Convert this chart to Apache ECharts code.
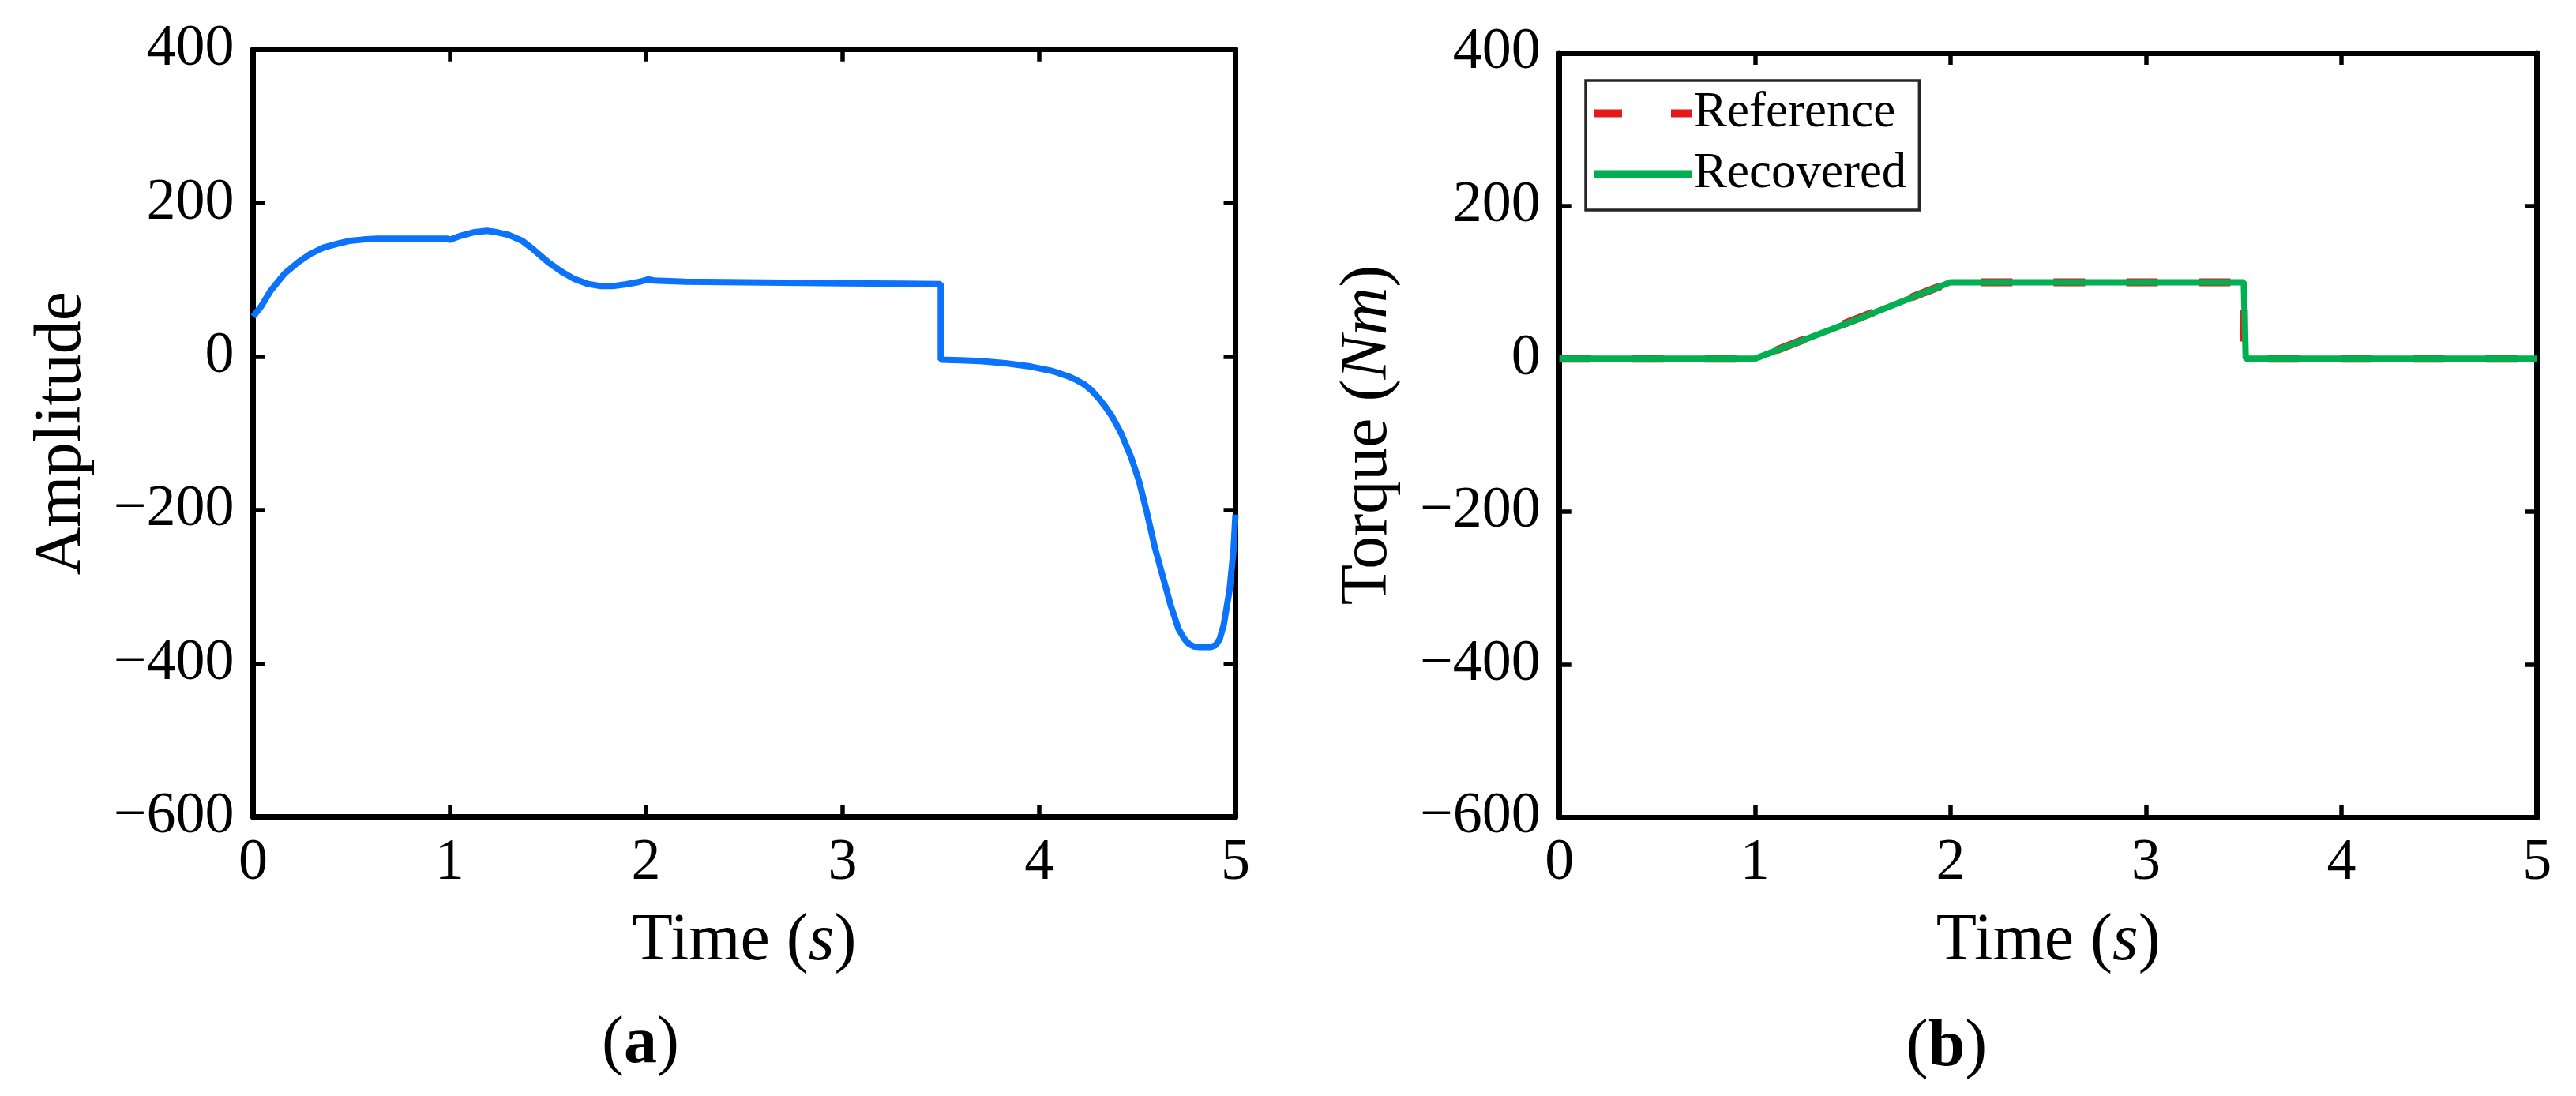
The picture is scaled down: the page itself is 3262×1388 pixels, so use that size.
<!DOCTYPE html>
<html>
<head>
<meta charset="utf-8">
<script src="https://cdn.jsdelivr.net/npm/echarts@6/dist/echarts.min.js"></script>
<style>
html,body{margin:0;padding:0;background:#fff;}
#chart{width:3262px;height:1388px;}
</style>
</head>
<body>
<div id="chart"></div>
<script>
// ---- data ----
const xTicks = [0, 1, 2, 3, 4, 5];
const yTicks = [-600, -400, -200, 0, 200, 400];

// (a) amplitude
const ampTime = [0, 0.04, 0.09, 0.16, 0.23, 0.29, 0.36, 0.43, 0.49, 0.56, 0.63, 0.8, 0.99, 1.0, 1.06, 1.12, 1.19, 1.24, 1.3, 1.37,
  1.43, 1.5, 1.57, 1.63, 1.7, 1.77, 1.83, 1.9, 1.97, 2.01, 2.04, 2.2, 2.6, 3.0, 3.3, 3.5, 3.5, 3.6, 3.7, 3.83,
  3.96, 4.07, 4.15, 4.19, 4.23, 4.265, 4.3, 4.335, 4.37, 4.42, 4.47, 4.51, 4.55, 4.59, 4.63, 4.67, 4.71, 4.74, 4.765, 4.79,
  4.82, 4.875, 4.9, 4.92, 4.94, 4.97, 4.99, 5.0];
const ampValue = [52, 65, 86, 108, 123, 133.5, 142, 147, 150.7, 152.4, 153.5, 153.5, 153.5, 152, 157.6, 161.7, 163.8, 162, 158.6, 150.7,
  138.7, 123.3, 110.6, 101.7, 94.8, 91.7, 91.7, 94.1, 97.5, 100.6, 99, 97.5, 96.5, 95.5, 95, 94.5, -4, -5, -6, -8.7,
  -13.2, -19, -25.9, -30.5, -36.2, -43.5, -53.3, -64.5, -77.3, -101, -132, -163, -204, -249, -286.5, -324, -355, -368, -375, -378,
  -378.5, -378.5, -376, -368, -350, -304, -252, -206];

// (b) torque
const refTime = [0, 1, 2, 3.5, 3.5, 5];
const refTorque = [0, 0, 100, 100, 0, 0];
const recTime = [0, 1, 1.5, 2, 3.5, 3.51, 5];
const recTorque = [0, 0, 49, 100, 100, 0, 0];

const seriesNames = ['Reference', 'Recovered'];

// ---- build ----
const zip = (a, b) => a.map((v, i) => [v, b[i]]);
const FONT = 'Liberation Serif';
const fmtY = v => String(v).replace('-', '\u2212');

const grids = [
  {left: 320.5, top: 62.7, width: 1244, height: 972},
  {left: 1974.7, top: 67, width: 1238, height: 968}
];

const axisLineStyle = {show: true, onZero: false, lineStyle: {color: '#000', width: 7}};
const axisTickStyle = {show: true, inside: true, length: 15, lineStyle: {color: '#000', width: 5.5}};

function xAxes(gi) {
  const base = {
    type: 'value', gridIndex: gi, min: xTicks[0], max: xTicks[xTicks.length - 1], interval: 1,
    splitLine: {show: false}, axisLine: axisLineStyle, axisTick: axisTickStyle
  };
  return [
    Object.assign({}, base, {
      position: 'bottom',
      axisLabel: {show: true, color: '#000', fontFamily: FONT, fontSize: 74, margin: 22},
      name: 'Time ({i|s})', nameLocation: 'middle', nameGap: 116,
      nameTextStyle: {color: '#000', fontFamily: FONT, fontSize: 84,
        rich: {i: {fontFamily: FONT, fontStyle: 'italic', fontSize: 84, color: '#000'}}}
    }),
    Object.assign({}, base, {position: 'top', axisLabel: {show: false}})
  ];
}
function yAxes(gi, name) {
  const base = {
    type: 'value', gridIndex: gi, min: yTicks[0], max: yTicks[yTicks.length - 1], interval: 200,
    splitLine: {show: false}, axisLine: axisLineStyle, axisTick: axisTickStyle
  };
  return [
    Object.assign({}, base, {
      position: 'left',
      axisLabel: {show: true, color: '#000', fontFamily: FONT, fontSize: 74, margin: 24, formatter: fmtY},
      name: name, nameLocation: 'middle', nameGap: 200,
      nameTextStyle: {color: '#000', fontFamily: FONT, fontSize: 84,
        rich: {i: {fontFamily: FONT, fontStyle: 'italic', fontSize: 84, color: '#000'}}}
    }),
    Object.assign({}, base, {position: 'right', axisLabel: {show: false}})
  ];
}

const option = {
  backgroundColor: '#fff',
  animation: false,
  grid: grids.map(g => Object.assign({show: false, containLabel: false}, g)),
  xAxis: [...xAxes(0), ...xAxes(1)],
  yAxis: [...yAxes(0, 'Amplitude'), ...yAxes(1, 'Torque ({i|Nm})')],
  legend: {
    data: [
      {name: seriesNames[0], icon: 'path://M0,0h36v10h-36z M98,0h26v10h-26z', itemStyle: {color: '#e3191c'}},
      {name: seriesNames[1], icon: 'path://M0,0h124v10h-124z', itemStyle: {color: '#00b050'}}
    ],
    orient: 'vertical',
    left: 2008, top: 102,
    padding: [10, 16, 14, 10],
    itemWidth: 124, itemHeight: 10, itemGap: 14,
    backgroundColor: '#fff',
    borderColor: '#262626', borderWidth: 3.5, borderRadius: 0,
    textStyle: {color: '#000', fontFamily: FONT, fontSize: 63, padding: [0, 0, 0, -2]}
  },
  series: [
    {
      type: 'line', name: 'Amplitude', xAxisIndex: 0, yAxisIndex: 0,
      data: zip(ampTime, ampValue), showSymbol: false, symbol: 'none',
      lineStyle: {color: '#0a72fb', width: 8}, itemStyle: {color: '#0a72fb'}
    },
    {
      type: 'line', name: seriesNames[0], xAxisIndex: 2, yAxisIndex: 2,
      data: zip(refTime, refTorque), showSymbol: false, symbol: 'none',
      lineStyle: {color: '#e3191c', width: 10, type: [40, 52]}, itemStyle: {color: '#e3191c'}
    },
    {
      type: 'line', name: seriesNames[1], xAxisIndex: 2, yAxisIndex: 2,
      data: zip(recTime, recTorque), showSymbol: false, symbol: 'none',
      lineStyle: {color: '#00b050', width: 8}, itemStyle: {color: '#00b050'}
    }
  ],
  graphic: [
    {type: 'text', x: 811, y: 1323,
      style: {text: '({b|a})', x: 0, y: 0, align: 'center', verticalAlign: 'middle',
        fill: '#000', font: '84px "Liberation Serif"',
        rich: {b: {fontWeight: 'bold', fontFamily: FONT, fontSize: 84, fill: '#000'}}}},
    {type: 'text', x: 2465, y: 1327,
      style: {text: '({b|b})', x: 0, y: 0, align: 'center', verticalAlign: 'middle',
        fill: '#000', font: '84px "Liberation Serif"',
        rich: {b: {fontWeight: 'bold', fontFamily: FONT, fontSize: 84, fill: '#000'}}}}
  ]
};

const chart = echarts.init(document.getElementById('chart'), null, {renderer: 'canvas'});
chart.setOption(option);
</script>
</body>
</html>
